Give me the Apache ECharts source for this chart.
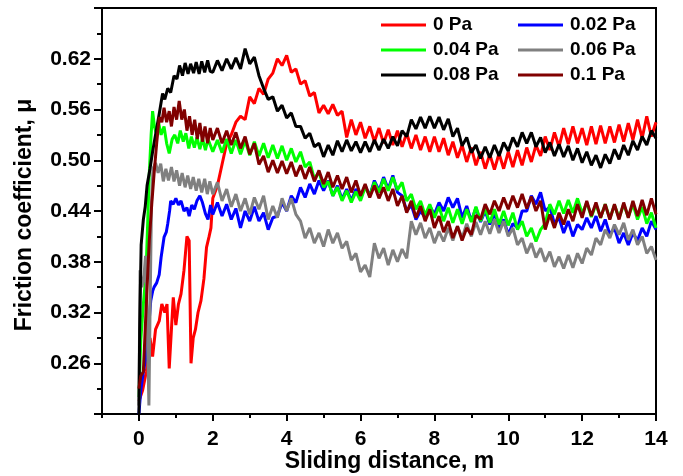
<!DOCTYPE html>
<html><head><meta charset="utf-8">
<script src="https://cdn.jsdelivr.net/npm/echarts@6/dist/echarts.min.js"></script>
<style>html,body{margin:0;padding:0;background:#fff}#c{width:683px;height:476px}</style>
</head><body><div id="c"></div>
<script>
const seriesNames = ['0 Pa','0.02 Pa','0.04 Pa','0.06 Pa','0.08 Pa','0.1 Pa'];
const xTickLabels = [0,2,4,6,8,10,12,14];
const xMinorTicks = [-1,1,3,5,7,9,11,13];

// shared sliding-distance grid (m) for the steady part
const distance = [
 2,2.125,2.25,2.375,2.5,2.625,2.75,2.875,
 3,3.125,3.25,3.375,3.5,3.625,3.75,3.875,
 4,4.125,4.25,4.375,4.5,4.625,4.75,4.875,
 5,5.125,5.25,5.375,5.5,5.625,5.75,5.875,
 6,6.125,6.25,6.375,6.5,6.625,6.75,6.875,
 7,7.125,7.25,7.375,7.5,7.625,7.75,7.875,
 8,8.125,8.25,8.375,8.5,8.625,8.75,8.875,
 9,9.125,9.25,9.375,9.5,9.625,9.75,9.875,
 10,10.125,10.25,10.375,10.5,10.625,10.75,10.875,
 11,11.125,11.25,11.375,11.5,11.625,11.75,11.875,
 12,12.125,12.25,12.375,12.5,12.625,12.75,12.875,
 13,13.125,13.25,13.375,13.5,13.625,13.75,13.875,
 14];

// running-in parts (distance, mu)
const early0Pa = [[0.0,0.215],[0.1,0.228],[0.2,0.25],[0.3,0.29],[0.37,0.268],[0.45,0.30],[0.55,0.31],[0.62,0.33],[0.7,0.32],[0.76,0.33],[0.82,0.254],[0.88,0.30],[0.93,0.338],[1.0,0.305],[1.07,0.33],[1.14,0.342],[1.22,0.37],[1.3,0.41],[1.36,0.405],[1.41,0.26],[1.47,0.29],[1.53,0.30],[1.6,0.32],[1.68,0.334],[1.76,0.36],[1.83,0.397],[1.9,0.41],[1.95,0.42]];
const early002Pa = [[0.0,0.2],[0.05,0.228],[0.12,0.25],[0.19,0.267],[0.26,0.30],[0.32,0.334],[0.37,0.345],[0.41,0.35],[0.48,0.355],[0.55,0.365],[0.6,0.385],[0.68,0.409],[0.74,0.415],[0.78,0.425],[0.83,0.44],[0.86,0.452],[0.93,0.448],[1.0,0.455],[1.07,0.447],[1.14,0.452],[1.22,0.44],[1.3,0.444],[1.36,0.434],[1.43,0.447],[1.5,0.442],[1.57,0.452],[1.65,0.458],[1.72,0.45],[1.8,0.437],[1.87,0.43],[1.94,0.447]];
const early004Pa = [[0.0,0.22],[0.05,0.287],[0.12,0.33],[0.19,0.365],[0.24,0.43],[0.28,0.484],[0.33,0.53],[0.37,0.558],[0.42,0.54],[0.46,0.533],[0.53,0.545],[0.6,0.53],[0.68,0.54],[0.75,0.52],[0.82,0.508],[0.9,0.525],[0.97,0.53],[1.05,0.52],[1.12,0.535],[1.2,0.522],[1.27,0.532],[1.35,0.514],[1.42,0.528],[1.5,0.515],[1.57,0.527],[1.65,0.513],[1.72,0.526],[1.8,0.512],[1.87,0.525]];
const early006Pa = [[0.0,0.21],[0.03,0.37],[0.08,0.35],[0.13,0.36],[0.18,0.387],[0.23,0.30],[0.27,0.21],[0.3,0.32],[0.34,0.45],[0.38,0.49],[0.45,0.497],[0.52,0.485],[0.59,0.496],[0.66,0.475],[0.73,0.49],[0.8,0.476],[0.88,0.492],[0.95,0.475],[1.02,0.488],[1.1,0.47],[1.17,0.485],[1.25,0.468],[1.32,0.482],[1.4,0.466],[1.47,0.48],[1.55,0.464],[1.62,0.478],[1.7,0.462],[1.78,0.478],[1.85,0.46],[1.92,0.475]];
const early008Pa = [[0.0,0.2],[0.02,0.3],[0.06,0.40],[0.12,0.43],[0.17,0.445],[0.22,0.47],[0.3,0.49],[0.37,0.51],[0.45,0.53],[0.55,0.555],[0.64,0.579],[0.7,0.572],[0.78,0.585],[0.86,0.58],[0.95,0.60],[1.03,0.596],[1.1,0.612],[1.18,0.60],[1.25,0.615],[1.33,0.602],[1.4,0.614],[1.48,0.603],[1.55,0.616],[1.63,0.602],[1.7,0.617],[1.78,0.604],[1.86,0.618],[1.93,0.605]];
const early01Pa = [[0.0,0.23],[0.05,0.245],[0.12,0.25],[0.2,0.33],[0.28,0.405],[0.35,0.45],[0.41,0.484],[0.48,0.52],[0.55,0.551],[0.62,0.545],[0.68,0.562],[0.75,0.545],[0.82,0.558],[0.88,0.54],[0.95,0.563],[1.02,0.548],[1.09,0.57],[1.16,0.548],[1.23,0.56],[1.3,0.535],[1.37,0.552],[1.44,0.53],[1.51,0.548],[1.58,0.525],[1.65,0.544],[1.72,0.522],[1.79,0.54],[1.86,0.52],[1.93,0.538]];

// steady part, aligned with `distance`
const mu0Pa = [
 .455,.470,.495,.520,.530,.545,.552,.548,
 .575,.567,.585,.578,.596,.603,.620,.612,
 .624,.604,.608,.590,.594,.576,.580,.556,
 .565,.555,.566,.553,.558,.527,.548,.530,
 .545,.526,.540,.522,.538,.520,.536,.518,
 .535,.516,.532,.514,.530,.512,.528,.510,
 .528,.510,.526,.506,.522,.503,.518,.498,
 .515,.494,.510,.490,.507,.489,.508,.490,
 .510,.492,.512,.494,.515,.498,.518,.505,
 .528,.512,.533,.516,.538,.519,.540,.520,
 .538,.518,.540,.519,.541,.520,.540,.521,
 .542,.522,.544,.524,.548,.526,.552,.528,
 .545];
const mu002Pa = [
 .436,.450,.434,.448,.430,.443,.420,.440,
 .428,.445,.428,.438,.418,.432,.434,.450,
 .440,.458,.450,.468,.456,.472,.460,.476,
 .464,.476,.458,.470,.454,.466,.452,.466,
 .455,.470,.458,.476,.464,.480,.466,.482,
 .462,.458,.440,.447,.430,.440,.432,.446,
 .436,.450,.440,.456,.444,.455,.432,.446,
 .428,.444,.427,.440,.424,.437,.420,.430,
 .412,.425,.420,.440,.440,.458,.448,.462,
 .440,.445,.425,.432,.414,.428,.410,.424,
 .418,.432,.420,.434,.416,.430,.412,.420,
 .402,.414,.400,.414,.405,.420,.410,.428,
 .418];
const mu004Pa = [
 .510,.524,.509,.525,.508,.524,.507,.523,
 .506,.522,.505,.520,.503,.518,.502,.517,
 .500,.514,.498,.510,.492,.498,.478,.486,
 .468,.475,.458,.468,.452,.464,.450,.463,
 .452,.468,.458,.474,.462,.478,.464,.480,
 .465,.474,.452,.460,.442,.452,.435,.448,
 .432,.445,.428,.444,.426,.442,.425,.442,
 .427,.445,.428,.443,.426,.442,.424,.440,
 .423,.438,.418,.428,.410,.420,.404,.418,
 .425,.448,.436,.452,.437,.453,.438,.455,
 .437,.450,.433,.448,.432,.448,.431,.447,
 .432,.448,.433,.448,.430,.445,.425,.438,
 .420];
const mu006Pa = [
 .460,.474,.452,.466,.445,.460,.440,.455,
 .436,.456,.442,.458,.430,.446,.432,.455,
 .440,.455,.436,.428,.408,.420,.402,.414,
 .398,.418,.402,.414,.396,.404,.382,.390,
 .368,.376,.362,.402,.384,.396,.376,.394,
 .380,.395,.384,.428,.412,.426,.408,.420,
 .402,.416,.404,.420,.405,.422,.408,.425,
 .410,.427,.412,.428,.413,.430,.414,.428,
 .410,.420,.400,.408,.390,.402,.385,.396,
 .380,.392,.374,.386,.372,.388,.373,.390,
 .378,.396,.388,.408,.400,.418,.408,.424,
 .412,.426,.406,.418,.400,.410,.390,.398,
 .382];
const mu008Pa = [
 .604,.618,.606,.620,.608,.621,.608,.632,
 .614,.622,.600,.585,.572,.575,.558,.565,
 .550,.556,.540,.540,.526,.532,.516,.520,
 .504,.518,.506,.523,.510,.524,.511,.522,
 .509,.522,.510,.524,.512,.525,.514,.528,
 .517,.535,.528,.548,.537,.551,.538,.552,
 .538,.551,.536,.549,.528,.538,.517,.527,
 .509,.518,.502,.516,.503,.518,.505,.521,
 .511,.527,.516,.533,.520,.533,.516,.527,
 .509,.521,.505,.519,.504,.517,.500,.514,
 .497,.510,.494,.506,.491,.507,.496,.513,
 .501,.518,.506,.523,.512,.528,.518,.535,
 .526];
const mu01Pa = [
 .524,.538,.520,.535,.518,.533,.514,.528,
 .507,.520,.495,.505,.486,.500,.485,.499,
 .484,.498,.481,.494,.478,.492,.475,.488,
 .472,.486,.468,.482,.466,.480,.462,.476,
 .458,.472,.456,.470,.455,.468,.452,.466,
 .446,.458,.438,.452,.432,.446,.428,.442,
 .420,.434,.415,.428,.408,.422,.405,.420,
 .412,.435,.430,.448,.436,.452,.440,.456,
 .442,.458,.444,.460,.443,.457,.440,.452,
 .418,.436,.420,.438,.424,.442,.428,.448,
 .432,.452,.434,.450,.432,.448,.430,.448,
 .430,.450,.432,.452,.434,.453,.435,.455,
 .436];

const colors = ['#ff0000','#0000ff','#00ff00','#808080','#000000','#800000'];
const earlyParts = [early0Pa,early002Pa,early004Pa,early006Pa,early008Pa,early01Pa];
const steadyParts = [mu0Pa,mu002Pa,mu004Pa,mu006Pa,mu008Pa,mu01Pa];

const FONT = 'Liberation Sans';
const chart = echarts.init(document.getElementById('c'), null, {renderer:'canvas'});
const series = seriesNames.map((name, k) => ({
  name, type:'line', xAxisIndex:0, yAxisIndex:0, showSymbol:false, symbol:'none',
  lineStyle:{color:colors[k], width:3}, itemStyle:{color:colors[k]},
  data: earlyParts[k].concat(distance.map((x,i)=>[x, steadyParts[k][i]])),
  animation:false
}));
const legendCommon = {
  orient:'vertical', icon:'rect', itemWidth:45, itemHeight:3, itemGap:5, padding:0,
  textStyle:{fontFamily:FONT, fontWeight:'bold', fontSize:19, color:'#000', lineHeight:20, padding:[0,0,0,2]},
  top:15, selectedMode:false
};
chart.setOption({
  animation:false,
  color: colors,
  grid:{left:102, right:27, top:8, bottom:62, outerBoundsMode:'none', containLabel:false,
        show:true, borderColor:'#000', borderWidth:2, backgroundColor:'transparent'},
  legend:[
    Object.assign({left:381, data:[seriesNames[0],seriesNames[2],seriesNames[4]]}, legendCommon),
    Object.assign({left:518, data:[seriesNames[1],seriesNames[3],seriesNames[5]]}, legendCommon)
  ],
  xAxis:[{
    type:'value', min:-1, max:14, interval:1,
    name:'Sliding distance, m', nameLocation:'middle', nameGap:36, nameMoveOverlap:false,
    nameTextStyle:{fontFamily:FONT, fontWeight:'bold', fontSize:23, color:'#000', padding:[0,0,0,21]},
    axisLine:{show:true, onZero:false, lineStyle:{color:'#000', width:2}},
    axisTick:{show:true, inside:false, length:7, lineStyle:{color:'#000', width:2}, customValues:xTickLabels},
    axisLabel:{show:true, margin:15, fontFamily:FONT, fontWeight:'bold', fontSize:21, color:'#000', customValues:xTickLabels},
    splitLine:{show:false}
  },{
    type:'value', min:-1, max:14, interval:1, position:'bottom',
    axisLine:{show:false},
    axisTick:{show:true, inside:false, length:4, lineStyle:{color:'#000', width:2}, customValues:xMinorTicks},
    axisLabel:{show:false}, splitLine:{show:false}
  }],
  yAxis:[{
    type:'value', min:0.2, max:0.68, interval:0.06,
    name:'Friction coefficient, \u03bc', nameLocation:'middle', nameGap:66, nameMoveOverlap:false,
    nameTextStyle:{fontFamily:FONT, fontWeight:'bold', fontSize:23, color:'#000', padding:[0,8,0,0]},
    axisLine:{show:true, onZero:false, lineStyle:{color:'#000', width:2}},
    axisTick:{show:true, inside:false, length:8, lineStyle:{color:'#000', width:2}},
    minorTick:{show:true, splitNumber:2, length:5, lineStyle:{color:'#000', width:2}},
    axisLabel:{show:true, margin:11, showMinLabel:false, showMaxLabel:false, fontFamily:FONT, fontWeight:'bold', fontSize:21, color:'#000',
      formatter:v=>v.toFixed(2)},
    splitLine:{show:false}, minorSplitLine:{show:false}
  }],
  series
});
</script></body></html>
